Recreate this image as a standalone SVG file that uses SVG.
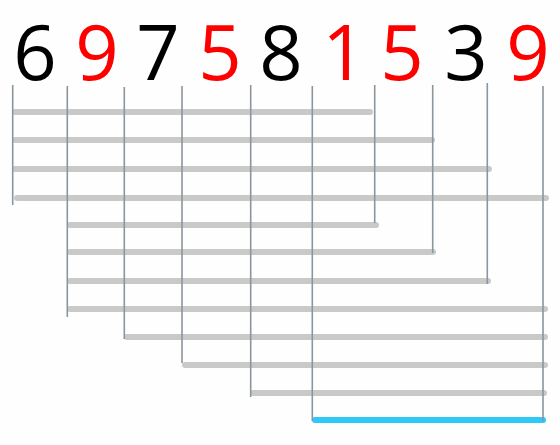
<svg xmlns="http://www.w3.org/2000/svg" width="560" height="445" viewBox="0 0 560 445">
<style>
.d{font-family:"Open Sans","Liberation Sans",sans-serif;font-size:76px;text-anchor:middle}
.k{fill:#000}
.r{fill:#ff0000}
.v{stroke:#8a959e;stroke-width:1.6;fill:none}
.h{stroke:#c9cac8;stroke-width:6;stroke-linecap:round;fill:none}
.b{stroke:#2ec9f9;stroke-width:6;stroke-linecap:round;fill:none}
</style>
<rect width="560" height="445" fill="#fefefe"/>
<g id="digits">
<text class="d k" x="35" y="80">6</text>
<text class="d r" x="97" y="80">9</text>
<text class="d k" x="158" y="80">7</text>
<text class="d r" x="220" y="80">5</text>
<text class="d k" x="281" y="80">8</text>
<text class="d r" x="344" y="80">1</text>
<text class="d r" x="402" y="80">5</text>
<text class="d k" x="466" y="80">3</text>
<text class="d r" x="528" y="80">9</text>
</g>
<g id="connectors">
<line class="h" x1="15" y1="112" x2="370" y2="112"/>
<line class="h" x1="15" y1="140" x2="432" y2="140"/>
<line class="h" x1="15" y1="169" x2="489" y2="169"/>
<line class="h" x1="17" y1="198" x2="546" y2="198"/>
<line class="h" x1="70" y1="225" x2="376" y2="225"/>
<line class="h" x1="70" y1="252" x2="433" y2="252"/>
<line class="h" x1="70" y1="281" x2="488" y2="281"/>
<line class="h" x1="70" y1="309" x2="545" y2="309"/>
<line class="h" x1="127" y1="337" x2="545" y2="337"/>
<line class="h" x1="185" y1="365" x2="545" y2="365"/>
<line class="h" x1="253" y1="393" x2="544" y2="393"/>
<line class="b" x1="315" y1="420" x2="543" y2="420"/>
<line class="v" x1="12.7" y1="85" x2="12.7" y2="205"/>
<line class="v" x1="67.3" y1="86" x2="67.3" y2="317"/>
<line class="v" x1="124.3" y1="87" x2="124.3" y2="339"/>
<line class="v" x1="182" y1="86" x2="182" y2="363"/>
<line class="v" x1="250.7" y1="85" x2="250.7" y2="397"/>
<line class="v" x1="312.3" y1="86" x2="312.3" y2="421"/>
<line class="v" x1="374.7" y1="85" x2="374.7" y2="223"/>
<line class="v" x1="432.7" y1="85" x2="432.7" y2="253"/>
<line class="v" x1="487.3" y1="83" x2="487.3" y2="284"/>
<line class="v" x1="543" y1="86" x2="543" y2="421"/>
</g>
</svg>
